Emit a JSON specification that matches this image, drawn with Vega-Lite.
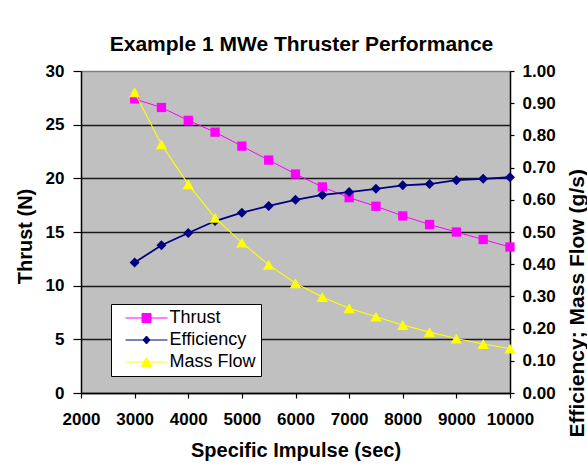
{
  "$schema": "https://vega.github.io/schema/vega-lite/v6.json",
  "width": 429,
  "height": 322,
  "autosize": {"type": "none"},
  "padding": {"left": 81, "top": 71, "right": 77, "bottom": 73},
  "background": "white",
  "title": {
    "text": "Example 1 MWe Thruster Performance",
    "font": "Liberation Sans",
    "fontSize": 21,
    "fontWeight": "bold",
    "color": "black",
    "anchor": "middle",
    "baseline": "alphabetic",
    "dx": 6,
    "offset": -10
  },
  "data": {
    "values": [
      {"isp": 3000, "series": "Thrust", "value": 27.4},
      {"isp": 3500, "series": "Thrust", "value": 26.6},
      {"isp": 4000, "series": "Thrust", "value": 25.4},
      {"isp": 4500, "series": "Thrust", "value": 24.3},
      {"isp": 5000, "series": "Thrust", "value": 23.0},
      {"isp": 5500, "series": "Thrust", "value": 21.7},
      {"isp": 6000, "series": "Thrust", "value": 20.4},
      {"isp": 6500, "series": "Thrust", "value": 19.2},
      {"isp": 7000, "series": "Thrust", "value": 18.2},
      {"isp": 7500, "series": "Thrust", "value": 17.4},
      {"isp": 8000, "series": "Thrust", "value": 16.5},
      {"isp": 8500, "series": "Thrust", "value": 15.7},
      {"isp": 9000, "series": "Thrust", "value": 15.0},
      {"isp": 9500, "series": "Thrust", "value": 14.3},
      {"isp": 10000, "series": "Thrust", "value": 13.6},
      {"isp": 3000, "series": "Efficiency", "value": 0.405},
      {"isp": 3500, "series": "Efficiency", "value": 0.459},
      {"isp": 4000, "series": "Efficiency", "value": 0.497},
      {"isp": 4500, "series": "Efficiency", "value": 0.534},
      {"isp": 5000, "series": "Efficiency", "value": 0.560},
      {"isp": 5500, "series": "Efficiency", "value": 0.581},
      {"isp": 6000, "series": "Efficiency", "value": 0.600},
      {"isp": 6500, "series": "Efficiency", "value": 0.615},
      {"isp": 7000, "series": "Efficiency", "value": 0.624},
      {"isp": 7500, "series": "Efficiency", "value": 0.634},
      {"isp": 8000, "series": "Efficiency", "value": 0.645},
      {"isp": 8500, "series": "Efficiency", "value": 0.649},
      {"isp": 9000, "series": "Efficiency", "value": 0.661},
      {"isp": 9500, "series": "Efficiency", "value": 0.665},
      {"isp": 10000, "series": "Efficiency", "value": 0.670},
      {"isp": 3000, "series": "Mass Flow", "value": 0.934},
      {"isp": 3500, "series": "Mass Flow", "value": 0.772},
      {"isp": 4000, "series": "Mass Flow", "value": 0.648},
      {"isp": 4500, "series": "Mass Flow", "value": 0.544},
      {"isp": 5000, "series": "Mass Flow", "value": 0.467},
      {"isp": 5500, "series": "Mass Flow", "value": 0.398},
      {"isp": 6000, "series": "Mass Flow", "value": 0.341},
      {"isp": 6500, "series": "Mass Flow", "value": 0.298},
      {"isp": 7000, "series": "Mass Flow", "value": 0.263},
      {"isp": 7500, "series": "Mass Flow", "value": 0.237},
      {"isp": 8000, "series": "Mass Flow", "value": 0.211},
      {"isp": 8500, "series": "Mass Flow", "value": 0.189},
      {"isp": 9000, "series": "Mass Flow", "value": 0.169},
      {"isp": 9500, "series": "Mass Flow", "value": 0.152},
      {"isp": 10000, "series": "Mass Flow", "value": 0.138}
    ]
  },
  "encoding": {
    "x": {
      "field": "isp",
      "type": "quantitative",
      "scale": {"domain": [2000, 10000], "nice": false, "zero": false},
      "axis": {
        "title": "Specific Impulse (sec)",
        "values": [2000, 3000, 4000, 5000, 6000, 7000, 8000, 9000, 10000],
        "format": "d",
        "tickSize": 5,
        "labelPadding": 13,
        "labelFlush": false,
        "labelOverlap": false,
        "titleX": 214.5,
        "titleY": 63,
        "titleBaseline": "alphabetic",
        "titleAnchor": "middle"
      }
    },
    "color": {
      "field": "series",
      "type": "nominal",
      "scale": {"domain": ["Thrust", "Efficiency", "Mass Flow"], "range": ["#FF00FF", "#000080", "#FFFF00"]},
      "legend": {
        "orient": "none",
        "legendX": 30,
        "legendY": 233,
        "title": null,
        "padding": 5,
        "fillColor": "white",
        "strokeColor": "black",
        "labelFont": "Liberation Sans",
        "labelFontSize": 18,
        "labelFontWeight": "normal",
        "labelColor": "black",
        "rowPadding": 4,
        "symbolSize": 100,
        "symbolOffset": 21.5,
        "labelOffset": 14,
        "encode": {
          "symbols": {
            "update": {
              "shape": {"signal": "datum.value === 'Thrust' ? 'M-4.2,0H4.2M-0.9,-0.9H0.9V0.9H-0.9Z' : datum.value === 'Efficiency' ? 'M-4.2,0H4.2M0,-0.8L0.7,0L0,0.8L-0.7,0Z' : 'M-4.2,0H4.2M0,-0.9L1,0.9H-1Z'"},
              "fill": {"scale": "color", "field": "value"},
              "stroke": {"scale": "color", "field": "value"},
              "strokeWidth": {"value": 1},
              "opacity": {"value": 1},
              "fillOpacity": {"value": 1},
              "strokeOpacity": {"value": 1}
            }
          }
        }
      }
    }
  },
  "layer": [
    {
      "transform": [{"filter": "datum.series === 'Thrust'"}],
      "encoding": {
        "y": {
          "field": "value",
          "type": "quantitative",
          "scale": {"domain": [0, 30], "nice": false},
          "axis": {
            "title": "Thrust (N)",
            "orient": "left",
            "values": [0, 5, 10, 15, 20, 25, 30],
            "tickSize": 8,
            "labelPadding": 9,
            "grid": true,
            "gridColor": {"condition": {"test": "datum.value === 30", "value": "#808080"}, "value": "#1a1a1a"},
            "gridWidth": 1.6,
            "titleX": -50,
            "titleY": 165,
            "titleAngle": -90,
            "titleAlign": "center",
            "titleBaseline": "alphabetic"
          }
        }
      },
      "layer": [
        {"mark": {"type": "line", "strokeWidth": 1, "clip": false}},
        {"mark": {"type": "point", "filled": true, "shape": "square", "size": 86, "opacity": 1, "clip": false}}
      ]
    },
    {
      "transform": [{"filter": "datum.series !== 'Thrust'"}],
      "encoding": {
        "y": {
          "field": "value",
          "type": "quantitative",
          "scale": {"domain": [0, 1], "nice": false},
          "axis": {
            "title": "Efficiency; Mass Flow (g/s)",
            "orient": "right",
            "values": [0, 0.1, 0.2, 0.3, 0.4, 0.5, 0.6, 0.7, 0.8, 0.9, 1.0],
            "format": ".2f",
            "tickSize": 4,
            "labelPadding": 8,
            "grid": false,
            "titleX": 73,
            "titleY": 366,
            "titleFontSize": 21,
            "titleAngle": -90,
            "titleAlign": "left",
            "titleBaseline": "alphabetic"
          }
        }
      },
      "layer": [
        {
          "mark": {"type": "line", "clip": false},
          "encoding": {
            "strokeWidth": {"field": "series", "type": "nominal", "scale": {"domain": ["Efficiency", "Mass Flow"], "range": [1.8, 1.1]}, "legend": null}
          }
        },
        {
          "mark": {"type": "point", "filled": true, "opacity": 1, "clip": false},
          "encoding": {
            "shape": {"field": "series", "type": "nominal", "scale": {"domain": ["Efficiency", "Mass Flow"], "range": ["diamond", "triangle-up"]}, "legend": null},
            "size": {"field": "series", "type": "nominal", "scale": {"domain": ["Efficiency", "Mass Flow"], "range": [100, 130]}, "legend": null}
          }
        }
      ]
    }
  ],
  "resolve": {"scale": {"y": "independent", "shape": "independent", "size": "independent", "strokeWidth": "independent"}},
  "config": {
    "font": "Liberation Sans",
    "view": {"fill": "#C0C0C0", "stroke": "#808080", "strokeWidth": 1},
    "axis": {
      "labelFont": "Liberation Sans",
      "labelFontSize": 17,
      "labelFontWeight": "bold",
      "labelColor": "black",
      "titleFont": "Liberation Sans",
      "titleFontSize": 20,
      "titleFontWeight": "bold",
      "titleColor": "black",
      "domainColor": "black",
      "domainWidth": 1.5,
      "tickColor": "black",
      "tickWidth": 1.2,
      "grid": false
    }
  }
}
